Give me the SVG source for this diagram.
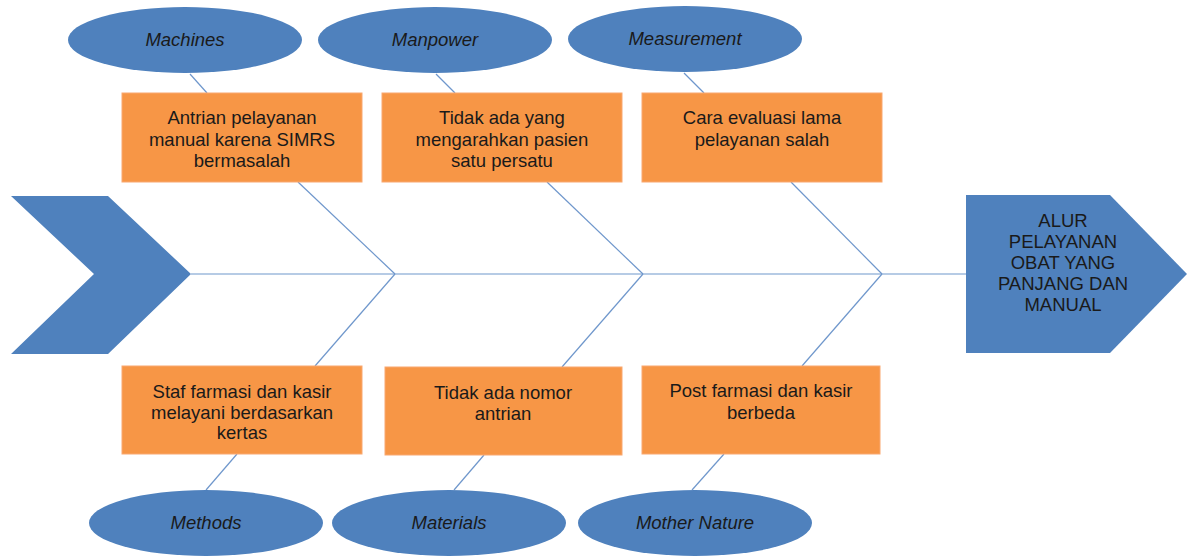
<svg xmlns="http://www.w3.org/2000/svg" width="1187" height="557" viewBox="0 0 1187 557">
<style>
.cat{fill:#4F81BD}
.catt{font-family:"Liberation Sans",Arial,sans-serif;font-size:18.5px;font-style:italic;fill:#1a1a1a;text-anchor:middle}
.box{fill:#F79646;stroke:#F9A870;stroke-width:1}
.bt{font-family:"Liberation Sans",Arial,sans-serif;font-size:18.5px;fill:#1a1a1a;text-anchor:middle}
.ln{stroke:#6F97CC;stroke-width:1.2;fill:none}
.head{fill:#4F81BD}
.ht{font-family:"Liberation Sans",Arial,sans-serif;font-size:18.5px;fill:#1a1a1a;text-anchor:middle}
</style>
<rect width="1187" height="557" fill="#ffffff"/>
<g id="connectors">
<line class="ln" x1="191" y1="274" x2="966" y2="274" stroke-width="1.6"/>
<line class="ln" x1="298" y1="182" x2="395" y2="274"/>
<line class="ln" x1="395" y1="274" x2="315" y2="366"/>
<line class="ln" x1="547" y1="182" x2="643" y2="274"/>
<line class="ln" x1="643" y1="274" x2="562" y2="367"/>
<line class="ln" x1="791" y1="182" x2="882" y2="274"/>
<line class="ln" x1="882" y1="274" x2="802" y2="366"/>
<line class="ln" x1="190" y1="74" x2="207" y2="93"/>
<line class="ln" x1="436" y1="74" x2="455" y2="93"/>
<line class="ln" x1="684" y1="73" x2="704" y2="93"/>
<line class="ln" x1="237" y1="454" x2="206" y2="490"/>
<line class="ln" x1="484" y1="455" x2="454" y2="490"/>
<line class="ln" x1="724" y1="454" x2="692" y2="490"/>
</g>
<g id="tail"><polygon class="head" points="11,196 108,196 191,274 108,354 11,354 94,274"/></g>
<g id="head">
<polygon class="head" points="966,195 1110,195 1187,274 1110,353 966,353"/>
<text class="ht" x="1063" y="227">ALUR</text>
<text class="ht" x="1063" y="248">PELAYANAN</text>
<text class="ht" x="1063" y="269">OBAT YANG</text>
<text class="ht" x="1063" y="290">PANJANG DAN</text>
<text class="ht" x="1063" y="311">MANUAL</text>
</g>
<g id="machines"><ellipse class="cat" cx="185" cy="40" rx="117" ry="33"/><text class="catt" x="185" y="46">Machines</text></g>
<g id="manpower"><ellipse class="cat" cx="435" cy="40" rx="117" ry="33"/><text class="catt" x="435" y="46">Manpower</text></g>
<g id="measurement"><ellipse class="cat" cx="685" cy="39" rx="117" ry="33"/><text class="catt" x="685" y="45">Measurement</text></g>
<g id="methods"><ellipse class="cat" cx="206" cy="523" rx="117" ry="33"/><text class="catt" x="206" y="529">Methods</text></g>
<g id="materials"><ellipse class="cat" cx="449" cy="523" rx="117" ry="33"/><text class="catt" x="449" y="529">Materials</text></g>
<g id="mothernature"><ellipse class="cat" cx="695" cy="523" rx="117" ry="33"/><text class="catt" x="695" y="529">Mother Nature</text></g>
<g id="cause1"><rect class="box" x="122" y="93" width="240" height="89"/>
<text class="bt" x="242" y="124">Antrian pelayanan</text>
<text class="bt" x="242" y="146">manual karena SIMRS</text>
<text class="bt" x="242" y="167">bermasalah</text></g>
<g id="cause2"><rect class="box" x="382" y="93" width="240" height="89"/>
<text class="bt" x="502" y="124">Tidak ada yang</text>
<text class="bt" x="502" y="146">mengarahkan pasien</text>
<text class="bt" x="502" y="167">satu persatu</text></g>
<g id="cause3"><rect class="box" x="642" y="93" width="240" height="89"/>
<text class="bt" x="762" y="124">Cara evaluasi lama</text>
<text class="bt" x="762" y="146">pelayanan salah</text></g>
<g id="cause4"><rect class="box" x="122" y="366" width="240" height="88"/>
<text class="bt" x="242" y="398">Staf farmasi dan kasir</text>
<text class="bt" x="242" y="419">melayani berdasarkan</text>
<text class="bt" x="242" y="439">kertas</text></g>
<g id="cause5"><rect class="box" x="385" y="367" width="237" height="88"/>
<text class="bt" x="503" y="399">Tidak ada nomor</text>
<text class="bt" x="503" y="420">antrian</text></g>
<g id="cause6"><rect class="box" x="642" y="366" width="238" height="88"/>
<text class="bt" x="761" y="397">Post farmasi dan kasir</text>
<text class="bt" x="761" y="419">berbeda</text></g>
</svg>
